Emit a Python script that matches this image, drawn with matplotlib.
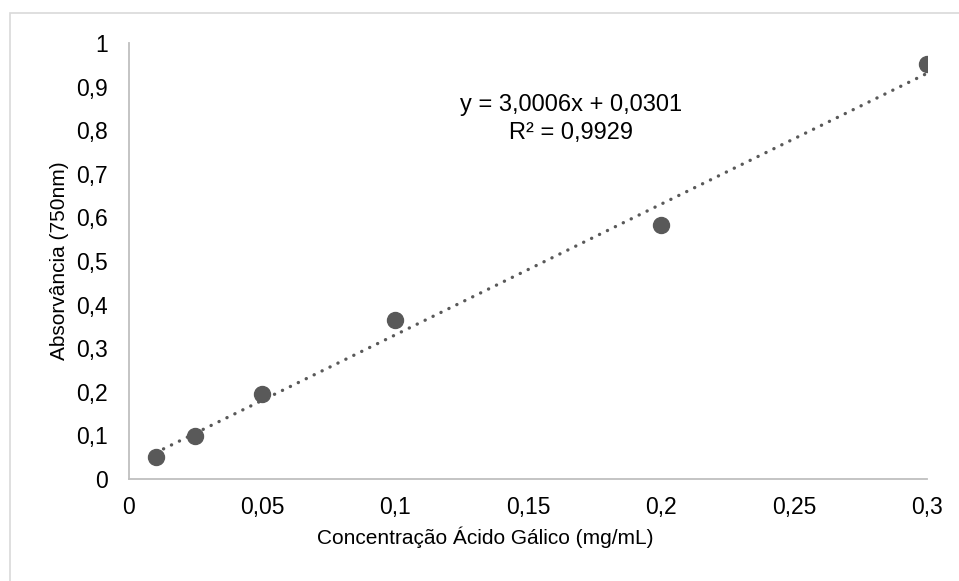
import numpy as np
import matplotlib
matplotlib.use("Agg")
import matplotlib.pyplot as plt
from matplotlib.patches import Rectangle
from matplotlib.ticker import FuncFormatter, MultipleLocator

# calibration points (gallic acid standard curve)
concentracao = [0.01, 0.025, 0.05, 0.1, 0.2, 0.3]
absorvancia = [0.050, 0.099, 0.196, 0.364, 0.583, 0.952]

# linear trendline reported on the chart
slope = 3.0006
intercept = 0.0301
r2 = 0.9929

plt.rcParams["font.family"] = ["Liberation Sans", "DejaVu Sans"]

fig = plt.figure(figsize=(9.59, 5.81), dpi=100)
ax = fig.add_axes([0.1345, 0.1756, 0.8321, 0.7504])

# light chart-area frame
fig.patches.append(
    Rectangle((10 / 959, -0.05), 1.1, 1.05 - 13 / 581,
              transform=fig.transFigure, fill=False,
              edgecolor="#d9d9d9", linewidth=1.2)
)

grey = "#595959"
ax.plot(concentracao, absorvancia, "o", color=grey, markersize=11.5,
        zorder=3)

xt = np.array([min(concentracao), max(concentracao)])
ax.plot(xt, slope * xt + intercept, color=grey, linewidth=2.4,
        linestyle=(0, (0.05, 2.6)), dash_capstyle="round", zorder=2)


def fmt(v):
    return ("%g" % round(v, 3)).replace(".", ",")


eq = "y = " + ("%.4f" % slope).replace(".", ",") + "x + " + \
    ("%.4f" % intercept).replace(".", ",")
r2_txt = "R² = " + ("%.4f" % r2).replace(".", ",")
ax.text(0.1662, 0.826, eq + "\n" + r2_txt, ha="center", va="center",
        fontsize=17, linespacing=1.38, color="#000000")

ax.set_xlim(0, 0.3)
ax.set_ylim(0, 1)
ax.xaxis.set_major_locator(MultipleLocator(0.05))
ax.yaxis.set_major_locator(MultipleLocator(0.1))
ax.xaxis.set_major_formatter(FuncFormatter(lambda v, p: fmt(v)))
ax.yaxis.set_major_formatter(FuncFormatter(lambda v, p: fmt(v)))
ax.tick_params(length=0, labelsize=16.5, colors="#000000")
ax.tick_params(axis="x", pad=12)
ax.tick_params(axis="y", pad=15)

for side in ["top", "right"]:
    ax.spines[side].set_visible(False)
for side in ["left", "bottom"]:
    ax.spines[side].set_color("#bfbfbf")
    ax.spines[side].set_linewidth(1.3)

ax.set_xlabel("Concentração Ácido Gálico (mg/mL)", fontsize=15)
ax.xaxis.set_label_coords((485 - 129) / 798, -0.108)
ax.set_ylabel("Absorvância (750nm)", fontsize=15, labelpad=5)

fig.savefig("out.png", dpi=100)
